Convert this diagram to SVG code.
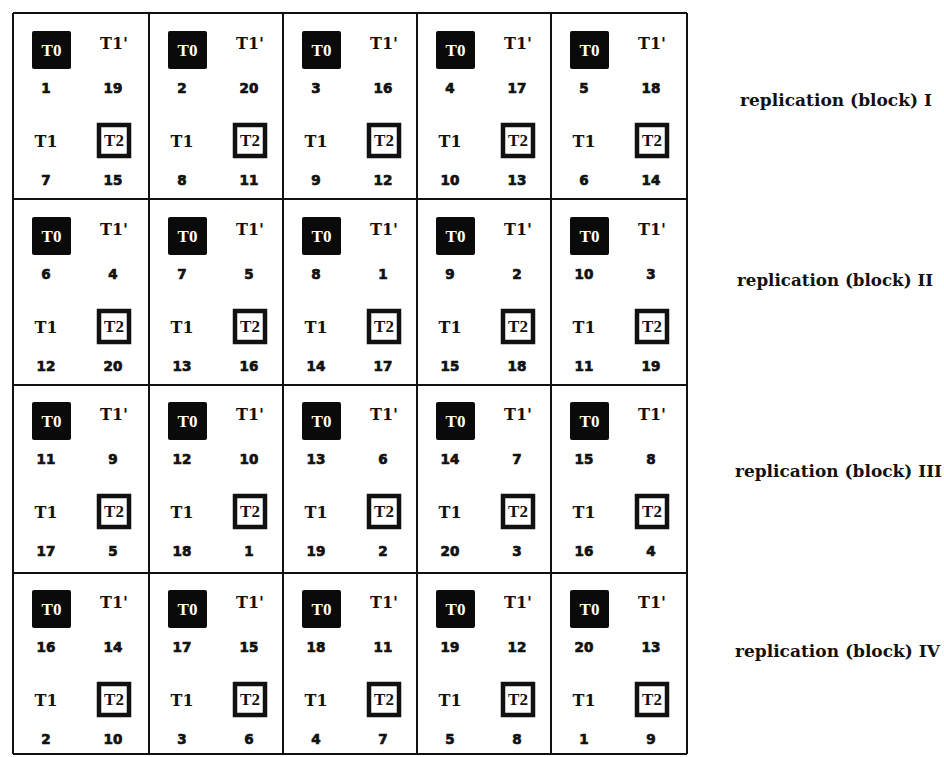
<svg xmlns="http://www.w3.org/2000/svg" width="944" height="757" viewBox="0 0 944 757">
<style>
.ln{stroke:#111;stroke-width:2;fill:none}
.t0{fill:#0a0a0a;rx:2px}
.t0t{font-family:"Liberation Serif",serif;font-weight:bold;font-size:17px;fill:#fff;text-anchor:middle}
.tl{font-family:"DejaVu Serif",serif;font-weight:bold;font-size:16px;fill:#111;text-anchor:middle}
.t2{fill:#fff;stroke:#111;stroke-width:4.5}
.t2t{font-family:"Liberation Serif",serif;font-weight:bold;font-size:17px;fill:#111;text-anchor:middle}
.n{font-family:"DejaVu Sans",sans-serif;font-weight:bold;font-size:13.5px;fill:#111;stroke:#111;stroke-width:0.7;text-anchor:middle}
.lab{font-family:"DejaVu Serif",serif;font-weight:bold;font-size:17px;fill:#111}
</style>
<rect width="944" height="757" fill="#fff"/>
<g id="grid">
<line class="ln" x1="13" y1="13" x2="13" y2="754"/>
<line class="ln" x1="149" y1="13" x2="149" y2="754"/>
<line class="ln" x1="283" y1="13" x2="283" y2="754"/>
<line class="ln" x1="417" y1="13" x2="417" y2="754"/>
<line class="ln" x1="551" y1="13" x2="551" y2="754"/>
<line class="ln" x1="687" y1="13" x2="687" y2="754"/>
<line class="ln" x1="13" y1="13" x2="687" y2="13"/>
<line class="ln" x1="13" y1="199" x2="687" y2="199"/>
<line class="ln" x1="13" y1="385" x2="687" y2="385"/>
<line class="ln" x1="13" y1="573" x2="687" y2="573"/>
<line class="ln" x1="13" y1="754" x2="687" y2="754"/>
</g>
<!-- Row 1 -->
<g id="c1-1" transform="translate(13,13)"><rect class="t0" x="19" y="18" width="39" height="38"/><text class="t0t" x="38.5" y="43">T0</text><text class="tl" x="101" y="36">T1'</text><text class="n" x="33" y="80">1</text><text class="n" x="100" y="80">19</text><text class="tl" x="33" y="134">T1</text><rect class="t2" x="86" y="112" width="30" height="31"/><text class="t2t" x="101" y="133">T2</text><text class="n" x="33" y="172">7</text><text class="n" x="100" y="172">15</text></g>
<g id="c1-2" transform="translate(149,13)"><rect class="t0" x="19" y="18" width="39" height="38"/><text class="t0t" x="38.5" y="43">T0</text><text class="tl" x="101" y="36">T1'</text><text class="n" x="33" y="80">2</text><text class="n" x="100" y="80">20</text><text class="tl" x="33" y="134">T1</text><rect class="t2" x="86" y="112" width="30" height="31"/><text class="t2t" x="101" y="133">T2</text><text class="n" x="33" y="172">8</text><text class="n" x="100" y="172">11</text></g>
<g id="c1-3" transform="translate(283,13)"><rect class="t0" x="19" y="18" width="39" height="38"/><text class="t0t" x="38.5" y="43">T0</text><text class="tl" x="101" y="36">T1'</text><text class="n" x="33" y="80">3</text><text class="n" x="100" y="80">16</text><text class="tl" x="33" y="134">T1</text><rect class="t2" x="86" y="112" width="30" height="31"/><text class="t2t" x="101" y="133">T2</text><text class="n" x="33" y="172">9</text><text class="n" x="100" y="172">12</text></g>
<g id="c1-4" transform="translate(417,13)"><rect class="t0" x="19" y="18" width="39" height="38"/><text class="t0t" x="38.5" y="43">T0</text><text class="tl" x="101" y="36">T1'</text><text class="n" x="33" y="80">4</text><text class="n" x="100" y="80">17</text><text class="tl" x="33" y="134">T1</text><rect class="t2" x="86" y="112" width="30" height="31"/><text class="t2t" x="101" y="133">T2</text><text class="n" x="33" y="172">10</text><text class="n" x="100" y="172">13</text></g>
<g id="c1-5" transform="translate(551,13)"><rect class="t0" x="19" y="18" width="39" height="38"/><text class="t0t" x="38.5" y="43">T0</text><text class="tl" x="101" y="36">T1'</text><text class="n" x="33" y="80">5</text><text class="n" x="100" y="80">18</text><text class="tl" x="33" y="134">T1</text><rect class="t2" x="86" y="112" width="30" height="31"/><text class="t2t" x="101" y="133">T2</text><text class="n" x="33" y="172">6</text><text class="n" x="100" y="172">14</text></g>
<!-- Row 2 -->
<g id="c2-1" transform="translate(13,199)"><rect class="t0" x="19" y="18" width="39" height="38"/><text class="t0t" x="38.5" y="43">T0</text><text class="tl" x="101" y="36">T1'</text><text class="n" x="33" y="80">6</text><text class="n" x="100" y="80">4</text><text class="tl" x="33" y="134">T1</text><rect class="t2" x="86" y="112" width="30" height="31"/><text class="t2t" x="101" y="133">T2</text><text class="n" x="33" y="172">12</text><text class="n" x="100" y="172">20</text></g>
<g id="c2-2" transform="translate(149,199)"><rect class="t0" x="19" y="18" width="39" height="38"/><text class="t0t" x="38.5" y="43">T0</text><text class="tl" x="101" y="36">T1'</text><text class="n" x="33" y="80">7</text><text class="n" x="100" y="80">5</text><text class="tl" x="33" y="134">T1</text><rect class="t2" x="86" y="112" width="30" height="31"/><text class="t2t" x="101" y="133">T2</text><text class="n" x="33" y="172">13</text><text class="n" x="100" y="172">16</text></g>
<g id="c2-3" transform="translate(283,199)"><rect class="t0" x="19" y="18" width="39" height="38"/><text class="t0t" x="38.5" y="43">T0</text><text class="tl" x="101" y="36">T1'</text><text class="n" x="33" y="80">8</text><text class="n" x="100" y="80">1</text><text class="tl" x="33" y="134">T1</text><rect class="t2" x="86" y="112" width="30" height="31"/><text class="t2t" x="101" y="133">T2</text><text class="n" x="33" y="172">14</text><text class="n" x="100" y="172">17</text></g>
<g id="c2-4" transform="translate(417,199)"><rect class="t0" x="19" y="18" width="39" height="38"/><text class="t0t" x="38.5" y="43">T0</text><text class="tl" x="101" y="36">T1'</text><text class="n" x="33" y="80">9</text><text class="n" x="100" y="80">2</text><text class="tl" x="33" y="134">T1</text><rect class="t2" x="86" y="112" width="30" height="31"/><text class="t2t" x="101" y="133">T2</text><text class="n" x="33" y="172">15</text><text class="n" x="100" y="172">18</text></g>
<g id="c2-5" transform="translate(551,199)"><rect class="t0" x="19" y="18" width="39" height="38"/><text class="t0t" x="38.5" y="43">T0</text><text class="tl" x="101" y="36">T1'</text><text class="n" x="33" y="80">10</text><text class="n" x="100" y="80">3</text><text class="tl" x="33" y="134">T1</text><rect class="t2" x="86" y="112" width="30" height="31"/><text class="t2t" x="101" y="133">T2</text><text class="n" x="33" y="172">11</text><text class="n" x="100" y="172">19</text></g>
<!-- Row 3 -->
<g id="c3-1" transform="translate(13,384)"><rect class="t0" x="19" y="18" width="39" height="38"/><text class="t0t" x="38.5" y="43">T0</text><text class="tl" x="101" y="36">T1'</text><text class="n" x="33" y="80">11</text><text class="n" x="100" y="80">9</text><text class="tl" x="33" y="134">T1</text><rect class="t2" x="86" y="112" width="30" height="31"/><text class="t2t" x="101" y="133">T2</text><text class="n" x="33" y="172">17</text><text class="n" x="100" y="172">5</text></g>
<g id="c3-2" transform="translate(149,384)"><rect class="t0" x="19" y="18" width="39" height="38"/><text class="t0t" x="38.5" y="43">T0</text><text class="tl" x="101" y="36">T1'</text><text class="n" x="33" y="80">12</text><text class="n" x="100" y="80">10</text><text class="tl" x="33" y="134">T1</text><rect class="t2" x="86" y="112" width="30" height="31"/><text class="t2t" x="101" y="133">T2</text><text class="n" x="33" y="172">18</text><text class="n" x="100" y="172">1</text></g>
<g id="c3-3" transform="translate(283,384)"><rect class="t0" x="19" y="18" width="39" height="38"/><text class="t0t" x="38.5" y="43">T0</text><text class="tl" x="101" y="36">T1'</text><text class="n" x="33" y="80">13</text><text class="n" x="100" y="80">6</text><text class="tl" x="33" y="134">T1</text><rect class="t2" x="86" y="112" width="30" height="31"/><text class="t2t" x="101" y="133">T2</text><text class="n" x="33" y="172">19</text><text class="n" x="100" y="172">2</text></g>
<g id="c3-4" transform="translate(417,384)"><rect class="t0" x="19" y="18" width="39" height="38"/><text class="t0t" x="38.5" y="43">T0</text><text class="tl" x="101" y="36">T1'</text><text class="n" x="33" y="80">14</text><text class="n" x="100" y="80">7</text><text class="tl" x="33" y="134">T1</text><rect class="t2" x="86" y="112" width="30" height="31"/><text class="t2t" x="101" y="133">T2</text><text class="n" x="33" y="172">20</text><text class="n" x="100" y="172">3</text></g>
<g id="c3-5" transform="translate(551,384)"><rect class="t0" x="19" y="18" width="39" height="38"/><text class="t0t" x="38.5" y="43">T0</text><text class="tl" x="101" y="36">T1'</text><text class="n" x="33" y="80">15</text><text class="n" x="100" y="80">8</text><text class="tl" x="33" y="134">T1</text><rect class="t2" x="86" y="112" width="30" height="31"/><text class="t2t" x="101" y="133">T2</text><text class="n" x="33" y="172">16</text><text class="n" x="100" y="172">4</text></g>
<!-- Row 4 -->
<g id="c4-1" transform="translate(13,572)"><rect class="t0" x="19" y="18" width="39" height="38"/><text class="t0t" x="38.5" y="43">T0</text><text class="tl" x="101" y="36">T1'</text><text class="n" x="33" y="80">16</text><text class="n" x="100" y="80">14</text><text class="tl" x="33" y="134">T1</text><rect class="t2" x="86" y="112" width="30" height="31"/><text class="t2t" x="101" y="133">T2</text><text class="n" x="33" y="172">2</text><text class="n" x="100" y="172">10</text></g>
<g id="c4-2" transform="translate(149,572)"><rect class="t0" x="19" y="18" width="39" height="38"/><text class="t0t" x="38.5" y="43">T0</text><text class="tl" x="101" y="36">T1'</text><text class="n" x="33" y="80">17</text><text class="n" x="100" y="80">15</text><text class="tl" x="33" y="134">T1</text><rect class="t2" x="86" y="112" width="30" height="31"/><text class="t2t" x="101" y="133">T2</text><text class="n" x="33" y="172">3</text><text class="n" x="100" y="172">6</text></g>
<g id="c4-3" transform="translate(283,572)"><rect class="t0" x="19" y="18" width="39" height="38"/><text class="t0t" x="38.5" y="43">T0</text><text class="tl" x="101" y="36">T1'</text><text class="n" x="33" y="80">18</text><text class="n" x="100" y="80">11</text><text class="tl" x="33" y="134">T1</text><rect class="t2" x="86" y="112" width="30" height="31"/><text class="t2t" x="101" y="133">T2</text><text class="n" x="33" y="172">4</text><text class="n" x="100" y="172">7</text></g>
<g id="c4-4" transform="translate(417,572)"><rect class="t0" x="19" y="18" width="39" height="38"/><text class="t0t" x="38.5" y="43">T0</text><text class="tl" x="101" y="36">T1'</text><text class="n" x="33" y="80">19</text><text class="n" x="100" y="80">12</text><text class="tl" x="33" y="134">T1</text><rect class="t2" x="86" y="112" width="30" height="31"/><text class="t2t" x="101" y="133">T2</text><text class="n" x="33" y="172">5</text><text class="n" x="100" y="172">8</text></g>
<g id="c4-5" transform="translate(551,572)"><rect class="t0" x="19" y="18" width="39" height="38"/><text class="t0t" x="38.5" y="43">T0</text><text class="tl" x="101" y="36">T1'</text><text class="n" x="33" y="80">20</text><text class="n" x="100" y="80">13</text><text class="tl" x="33" y="134">T1</text><rect class="t2" x="86" y="112" width="30" height="31"/><text class="t2t" x="101" y="133">T2</text><text class="n" x="33" y="172">1</text><text class="n" x="100" y="172">9</text></g>
<g id="labels">
<text class="lab" x="740" y="106" textLength="192" lengthAdjust="spacingAndGlyphs">replication (block) I</text>
<text class="lab" x="737" y="286" textLength="196" lengthAdjust="spacingAndGlyphs">replication (block) II</text>
<text class="lab" x="735" y="477" textLength="207" lengthAdjust="spacingAndGlyphs">replication (block) III</text>
<text class="lab" x="735" y="657" textLength="205" lengthAdjust="spacingAndGlyphs">replication (block) IV</text>
</g>
</svg>
